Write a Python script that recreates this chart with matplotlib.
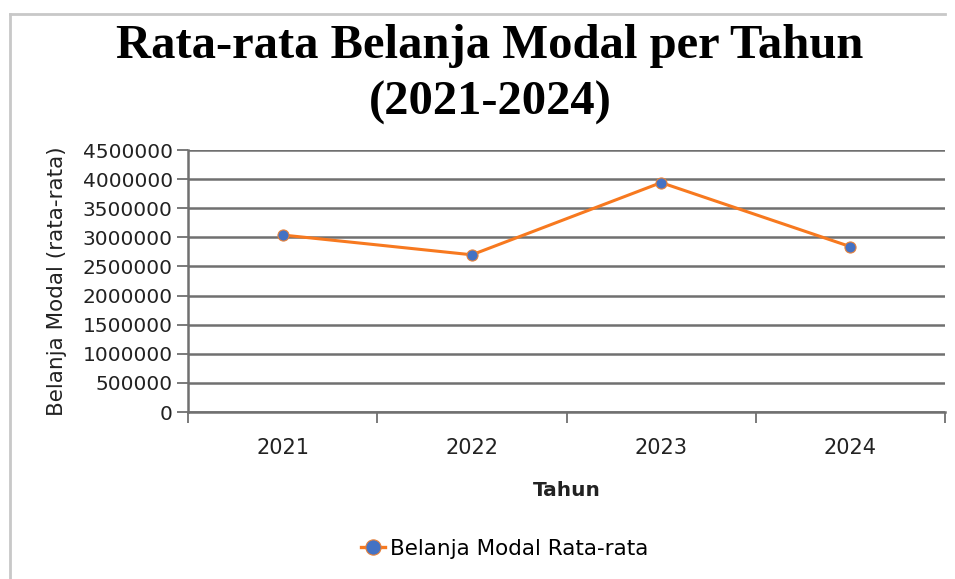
import matplotlib
matplotlib.use("Agg")
import matplotlib.pyplot as plt
from matplotlib.lines import Line2D

years = ["2021", "2022", "2023", "2024"]
values = [3040000, 2700000, 3940000, 2840000]
yticks = [0, 500000, 1000000, 1500000, 2000000, 2500000, 3000000, 3500000, 4000000, 4500000]
title = "Rata-rata Belanja Modal per Tahun\n(2021-2024)"
xlabel = "Tahun"
ylabel = "Belanja Modal (rata-rata)"
series_name = "Belanja Modal Rata-rata"

fig = plt.figure(figsize=(9.55, 5.79), dpi=100)
ax = fig.add_axes([188/955, 1-412/579, (945-188)/955, (412-150)/579])

x = list(range(len(years)))
ax.plot(x, values, color="#F7791F", lw=2.2, marker="o", ms=8,
        markerfacecolor="#4472C4", markeredgecolor="#E8823A", markeredgewidth=0.8, zorder=3)

ax.set_xlim(-0.5, len(years)-0.5)
ax.set_ylim(0, 4500000)
ax.set_yticks(yticks)
ax.set_yticklabels([str(v) for v in yticks], fontsize=14.5, color="#222222")
ax.yaxis.grid(True, color="#707070", lw=1.8)
ax.set_axisbelow(True)

ax.set_xticks(x)
ax.set_xticklabels(years, fontsize=15, color="#222222")
ax.set_xticks([i-0.5 for i in range(len(years)+1)], minor=True)
ax.tick_params(axis="x", which="major", length=0, pad=19)
ax.tick_params(axis="x", which="minor", length=8, width=1.3, color="#707070")
ax.tick_params(axis="y", length=8, width=1.3, color="#707070", pad=3)

for s in ["top", "right"]:
    ax.spines[s].set_visible(False)
for s in ["left", "bottom"]:
    ax.spines[s].set_color("#707070")
    ax.spines[s].set_linewidth(1.8)

ax.set_xlabel(xlabel, fontsize=14.5, fontweight="bold", labelpad=16, color="#222222")
ax.set_ylabel(ylabel, fontsize=15.5, color="#222222", labelpad=11)

fig.suptitle(title, x=(118+862)/2/955, y=1-24/579, fontsize=35, fontweight="bold",
             family="Liberation Serif", linespacing=1.36, va="top")

handle = Line2D([0], [0], color="#F7791F", lw=2.4, marker="o", ms=11,
                markerfacecolor="#4472C4", markeredgecolor="#E8823A", markeredgewidth=0.8)
fig.legend([handle], [series_name], loc="center", bbox_to_anchor=(505/955, 1-549/579),
           frameon=False, fontsize=15.5, handlelength=1.1, handletextpad=0.25)

# chart-area border (top and left)
fig.add_artist(Line2D([10/955, 945/955], [1-14/579, 1-14/579], color="#c8c8c8", lw=2))
fig.add_artist(Line2D([10/955, 10/955], [0, 1-14/579], color="#c8c8c8", lw=2))

fig.savefig("out.png", dpi=100, facecolor="white")
